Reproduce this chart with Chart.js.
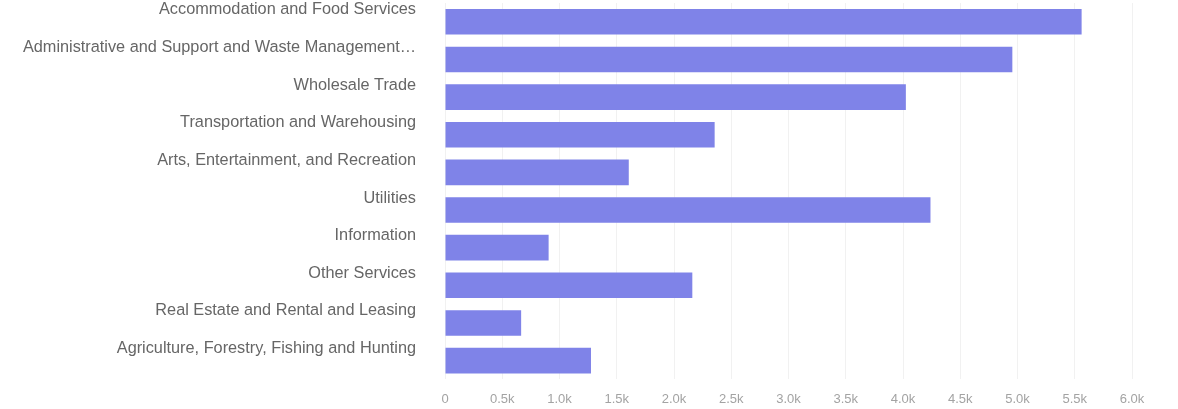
<!DOCTYPE html>
<html>
<head>
<meta charset="utf-8">
<script src="https://cdn.jsdelivr.net/npm/chart.js@4"></script>
<style>
    html, body { margin: 0; padding: 0; background: #fff; }
    #wrap { width: 1178px; height: 409px; }
</style>
</head>
<body>
<div id="wrap"><canvas id="industryChart"></canvas></div>
<script>
// Industries (y-axis) and their values
const industries = [
    'Accommodation and Food Services',
    'Administrative and Support and Waste Management\u2026',
    'Wholesale Trade',
    'Transportation and Warehousing',
    'Arts, Entertainment, and Recreation',
    'Utilities',
    'Information',
    'Other Services',
    'Real Estate and Rental and Leasing',
    'Agriculture, Forestry, Fishing and Hunting'
];
const values = [5560, 4955, 4025, 2355, 1605, 4240, 905, 2160, 665, 1275];

// x-axis ticks
const xMax = 6000;
const xStep = 500;

const fontFamily = '"Liberation Sans", Arial, Helvetica, sans-serif';

var ctx = document.getElementById('industryChart').getContext('2d');
new Chart(ctx, {
    type: 'bar',
    data: {
        labels: industries,
        datasets: [{
            data: values,
            backgroundColor: 'rgb(127, 131, 232)',
            borderWidth: 0,
            barPercentage: 0.68,
            categoryPercentage: 1
        }]
    },
    options: {
        indexAxis: 'y',
        responsive: true,
        maintainAspectRatio: false,
        animation: false,
        layout: { padding: { top: 3, right: 46, bottom: -10, left: 0 } },
        scales: {
            x: {
                min: 0,
                max: xMax,
                border: { display: false },
                grid: { color: '#f1f1f1', drawTicks: false },
                ticks: {
                    stepSize: xStep,
                    padding: 12,
                    color: '#a3a3a3',
                    font: { family: fontFamily, size: 13 },
                    callback: v => v === 0 ? '0' : (v / 1000).toFixed(1) + 'k'
                }
            },
            y: {
                border: { display: false },
                // grid hidden, tickLength only used as the gap before the labels
                grid: { display: false, drawTicks: true, tickLength: 26 },
                afterFit: scale => {
                    scale.width = 445;
                    scale.paddingTop = 0;
                    scale.paddingBottom = 0;
                },
                ticks: {
                    padding: 3,
                    labelOffset: -12,
                    color: '#666666',
                    font: { family: fontFamily, size: 16.3 }
                }
            }
        },
        plugins: {
            legend: { display: false },
            tooltip: { enabled: false }
        }
    }
});
</script>
</body>
</html>
